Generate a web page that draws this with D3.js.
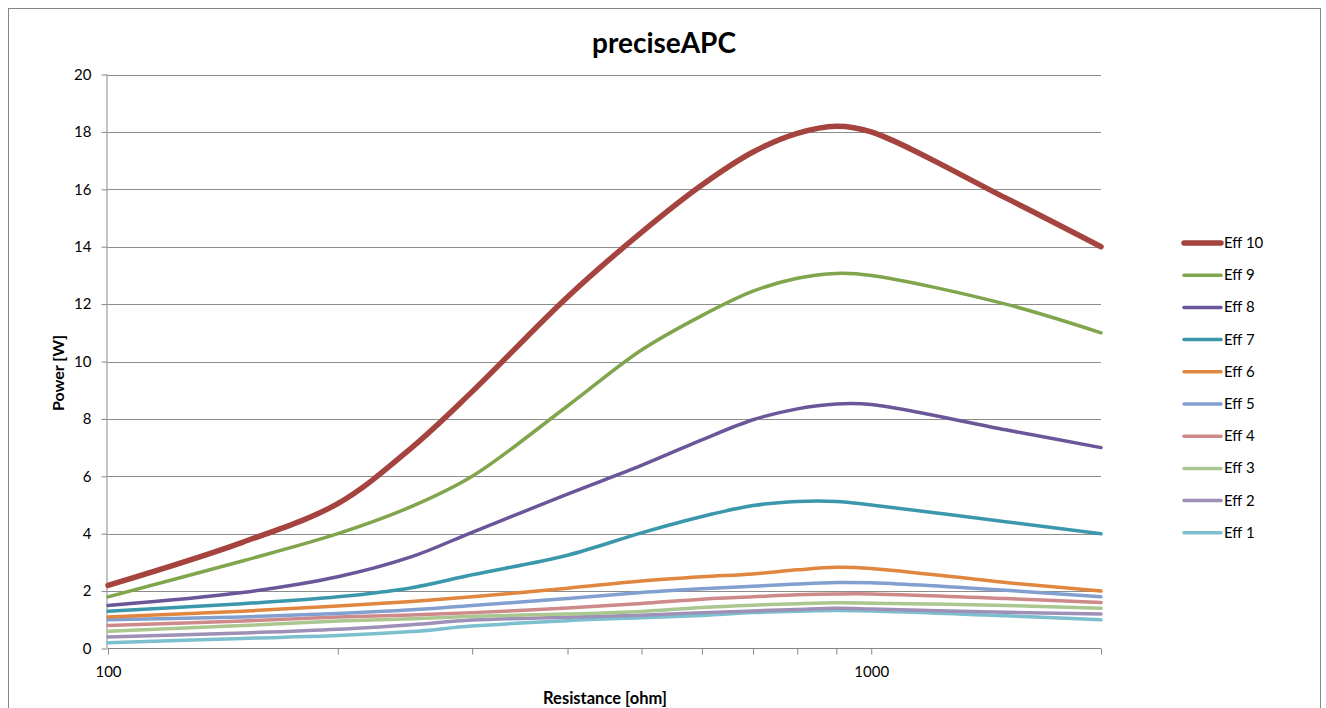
<!DOCTYPE html>
<html><head><meta charset="utf-8">
<script src="https://cdn.jsdelivr.net/npm/d3@7"></script>
<style>body{margin:0;background:#fff}svg{display:block}</style>
</head><body>
<svg id="c" width="1326" height="708"></svg>
<script>
const resistance = [100, 150, 200, 250, 300, 400, 500, 600, 700, 800, 900, 1000, 1500, 2000];
const eff10 = [2.2, 3.7, 5.05, 7.0, 8.95, 12.25, 14.5, 16.15, 17.3, 17.95, 18.2, 18.0, 15.7, 14.0];
const eff9  = [1.8, 3.05, 4.0, 4.95, 6.0, 8.45, 10.4, 11.6, 12.45, 12.9, 13.07, 13.0, 12.0, 11.0];
const eff8  = [1.5, 1.95, 2.5, 3.2, 4.05, 5.38, 6.38, 7.27, 7.97, 8.35, 8.52, 8.5, 7.62, 7.0];
const eff7  = [1.3, 1.56, 1.8, 2.12, 2.57, 3.25, 4.03, 4.6, 4.98, 5.12, 5.12, 5.0, 4.42, 4.0];
const eff6  = [1.1, 1.3, 1.48, 1.64, 1.8, 2.1, 2.35, 2.5, 2.6, 2.74, 2.83, 2.79, 2.3, 2.0];
const eff5  = [1.0, 1.1, 1.22, 1.35, 1.5, 1.74, 1.95, 2.08, 2.17, 2.25, 2.3, 2.29, 2.03, 1.8];
const eff4  = [0.8, 0.96, 1.1, 1.17, 1.25, 1.41, 1.57, 1.72, 1.8, 1.87, 1.9, 1.9, 1.74, 1.6];
const eff3  = [0.6, 0.8, 0.96, 1.04, 1.12, 1.2, 1.29, 1.43, 1.51, 1.56, 1.59, 1.58, 1.5, 1.4];
const eff2  = [0.4, 0.54, 0.67, 0.83, 0.99, 1.09, 1.16, 1.25, 1.31, 1.36, 1.4, 1.38, 1.26, 1.2];
const eff1  = [0.2, 0.35, 0.45, 0.59, 0.78, 0.97, 1.07, 1.15, 1.25, 1.3, 1.32, 1.31, 1.14, 1.0];
const seriesNames = ["Eff 10","Eff 9","Eff 8","Eff 7","Eff 6","Eff 5","Eff 4","Eff 3","Eff 2","Eff 1"];
const seriesValues = [eff10, eff9, eff8, eff7, eff6, eff5, eff4, eff3, eff2, eff1];
const seriesColors = ["#A5443F","#80A54D","#6A5699","#3B98AC","#E0863F","#819FCF","#CE8A8B","#A9C78F","#9E90B7","#7CBFCE"];
const yTicks = [0,2,4,6,8,10,12,14,16,18,20];
const xLabelTicks = [100, 1000];
const xMinorTicks = [200,300,400,500,600,700,800,900,2000];

const svg = d3.select("#c");
const font = "Lato, 'Noto Sans', sans-serif";
const L = 108, R = 1101, T = 74.5, B = 648.5;
const x = d3.scaleLog().domain([100, 2000]).range([L, R]);
const y = d3.scaleLinear().domain([0, 20]).range([B, T]);

svg.append("rect").attr("x",8.5).attr("y",8.5).attr("width",1312).attr("height",720)
  .attr("fill","#fff").attr("stroke","#868686").attr("stroke-width",1);

// gridlines
svg.append("g").selectAll("line").data(yTicks.filter(d=>d>0)).join("line")
  .attr("x1",L).attr("x2",R).attr("y1",d=>Math.round(y(d))+0.5).attr("y2",d=>Math.round(y(d))+0.5)
  .attr("stroke","#8c8c8c").attr("stroke-width",1);

// y axis
const ya = svg.append("g").attr("transform",`translate(${L-0.5},0)`)
  .call(d3.axisLeft(y).tickValues(yTicks).tickSize(6).tickPadding(10));
ya.select(".domain").attr("stroke","#868686").attr("d",`M-0.5,${T}V${B}`);
ya.selectAll(".tick line").attr("stroke","#868686");
ya.selectAll("text").attr("font-family",font).attr("font-size",15).attr("fill","#000");

// x axis
const xa = svg.append("g").attr("transform",`translate(0,${B})`)
  .call(d3.axisBottom(x).tickValues(xLabelTicks.concat(xMinorTicks)).tickSize(6).tickPadding(12)
    .tickFormat(d=>xLabelTicks.includes(d)?String(d):""));
xa.select(".domain").attr("stroke","#868686").attr("d",`M${L},0H${R}`);
xa.selectAll(".tick line").attr("stroke","#868686");
xa.selectAll("text").attr("font-family",font).attr("font-size",15).attr("fill","#000");

// lines
const line = d3.line().x((d,i)=>x(resistance[i])).y(d=>y(d)).curve(d3.curveCatmullRom.alpha(0.5));
const order = d3.range(seriesNames.length).reverse();
svg.append("g").selectAll("path").data(order).join("path")
  .attr("d",i=>line(seriesValues[i])).attr("fill","none")
  .attr("stroke",i=>seriesColors[i]).attr("stroke-width",i=>i===0?5.5:3.5)
  .attr("stroke-linejoin","round").attr("stroke-linecap","round");

// title
svg.append("text").attr("x",664).attr("y",53).attr("text-anchor","middle")
  .attr("font-family",font).attr("font-weight","bold").attr("font-size",28).text("preciseAPC");

// axis titles
svg.append("text").attr("x",605).attr("y",704).attr("text-anchor","middle")
  .attr("font-family",font).attr("font-weight","bold").attr("font-size",16.5).text("Resistance [ohm]");
svg.append("text").attr("transform","translate(64,373) rotate(-90)").attr("text-anchor","middle")
  .attr("font-family",font).attr("font-weight","bold").attr("font-size",16).text("Power [W]");

// legend
const lg = svg.append("g").selectAll("g").data(d3.range(seriesNames.length)).join("g")
  .attr("transform",i=>`translate(1183,${243+i*32.2})`);
lg.append("line").attr("x1",1).attr("x2",38).attr("y1",0).attr("y2",0)
  .attr("stroke",i=>seriesColors[i]).attr("stroke-width",i=>i===0?5.5:3.5).attr("stroke-linecap","round");
lg.append("text").attr("x",41).attr("y",5).attr("font-family",font).attr("font-size",15)
  .text(i=>seriesNames[i]);
</script>
</body></html>
